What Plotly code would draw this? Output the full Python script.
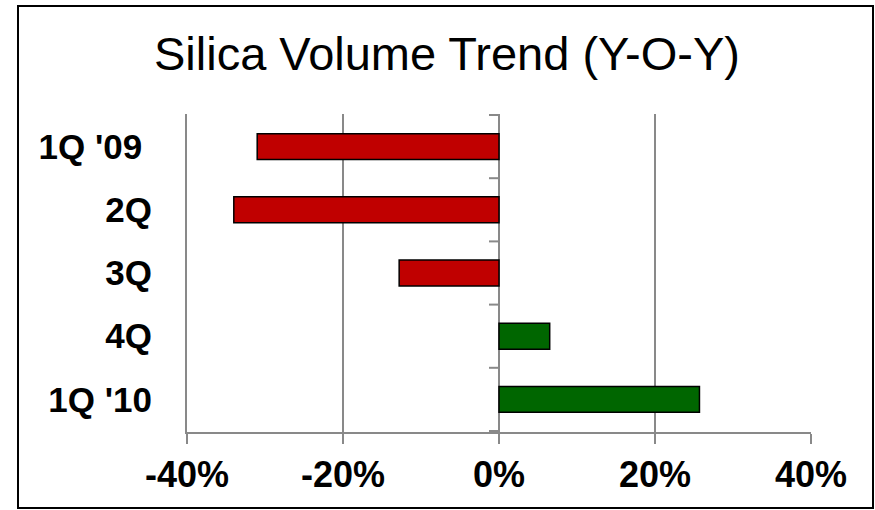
import plotly.graph_objects as go

# Year-over-year silica volume change by quarter (%)
quarters = ["1Q '09\u00a0", "2Q", "3Q", "4Q", "1Q '10"]
yoy_change = [-31.0, -34.0, -12.8, 6.5, 25.7]
x_ticks = [-40, -20, 0, 20, 40]
x_tick_text = ["-40%", "-20%", "0%", "20%", "40%"]

W, H = 875, 510
M_L, M_R, M_T, M_B = 187, 64, 114, 78
PLOT_W = W - M_L - M_R
PLOT_H = H - M_T - M_B

RED = "#C00000"
GREEN = "#006600"
GRID = "#898989"
FONT = "Liberation Sans, Arial, sans-serif"

bar_colors = [RED if v < 0 else GREEN for v in yoy_change]

fig = go.Figure(
    go.Bar(
        x=yoy_change,
        y=quarters,
        orientation="h",
        width=0.41,
        marker=dict(color=bar_colors, line=dict(color="black", width=1.5)),
        hoverinfo="skip",
    )
)

# category separator ticks on the vertical axis that crosses at 0%
shapes = []
for i in range(len(quarters) + 1):
    b = i - 0.5
    shapes.append(dict(
        type="line", xref="x", yref="y", xsizemode="pixel", xanchor=0,
        x0=-10, x1=0, y0=b, y1=b,
        line=dict(color=GRID, width=2), layer="above",
    ))

# outer frame around the whole chart
def px_to_paper_x(px):
    return (px - M_L) / PLOT_W

def px_to_paper_y(py):
    return (H - M_B - py) / PLOT_H

shapes.append(dict(
    type="rect", xref="paper", yref="paper",
    x0=px_to_paper_x(18), x1=px_to_paper_x(873),
    y0=px_to_paper_y(508), y1=px_to_paper_y(6),
    line=dict(color="black", width=2), fillcolor="rgba(0,0,0,0)",
))

fig.update_layout(
    width=W, height=H,
    margin=dict(l=M_L, r=M_R, t=M_T, b=M_B, pad=0),
    paper_bgcolor="white", plot_bgcolor="white",
    showlegend=False,
    bargap=0.59,
    title=dict(
        text="Silica Volume Trend (Y-O-Y)",
        font=dict(family=FONT, size=47, color="black"),
        x=447 / W, xanchor="center", xref="container",
        y=1 - 53.5 / H, yanchor="middle", yref="container",
    ),
    xaxis=dict(
        range=[-40, 40],
        tickvals=x_ticks, ticktext=x_tick_text,
        showgrid=True, gridcolor=GRID, gridwidth=2,
        zeroline=True, zerolinecolor=GRID, zerolinewidth=2,
        showline=True, linecolor=GRID, linewidth=2,
        ticks="outside", ticklen=10, tickwidth=2, tickcolor=GRID,
        tickfont=dict(family=FONT, size=36, color="black", weight="bold"),
        fixedrange=True,
    ),
    yaxis=dict(
        categoryorder="array", categoryarray=quarters,
        autorange="reversed",
        showgrid=False, zeroline=False,
        showline=True, linecolor=GRID, linewidth=2,
        ticks="", ticklabelstandoff=26,
        tickfont=dict(family=FONT, size=35, color="black", weight="bold"),
        fixedrange=True,
    ),
    shapes=shapes,
)

fig.write_html("out.html")
